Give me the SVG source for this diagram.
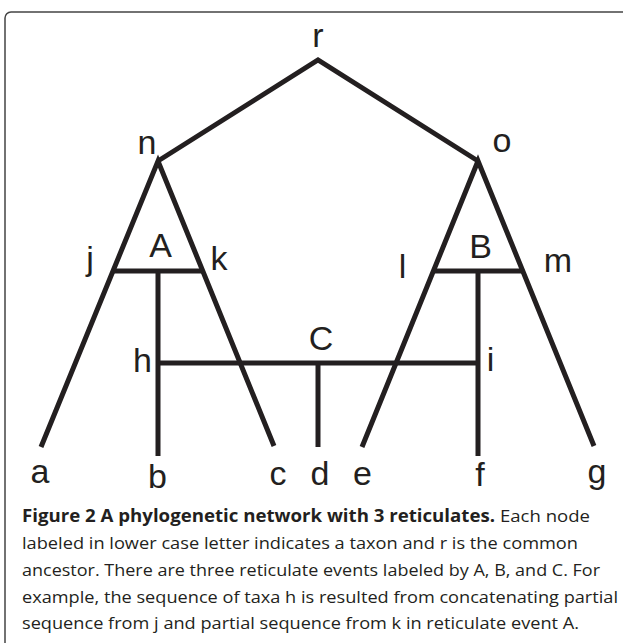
<svg xmlns="http://www.w3.org/2000/svg" width="623" height="643" viewBox="0 0 623 643">
<style>
.edge{fill:none;stroke:#231f20;stroke-width:5;stroke-linecap:butt;stroke-linejoin:miter}
.lbl{font-family:"Liberation Sans",Arial,sans-serif;font-size:34px;fill:#231f20;text-anchor:middle}
.cap{font-family:"Open Sans","Noto Sans",sans-serif;font-size:17px;fill:#231f20}
.capb{font-weight:bold}
</style>
<rect x="0" y="0" width="623" height="643" fill="#ffffff"/>
<path d="M623,12 H11 A6,6 0 0 0 5,18 V643" fill="none" stroke="#444" stroke-width="1.5"/>
<g id="connectors">
<path class="edge" d="M158,161 L318,60 L478,161"/>
<path class="edge" d="M41,447 L158,161 L274,446"/>
<path class="edge" d="M362,447 L478,161 L594,446"/>
<path class="edge" d="M113,271 H203"/>
<path class="edge" d="M435,271 H523"/>
<path class="edge" d="M158,271 V456"/>
<path class="edge" d="M478,271 V456"/>
<path class="edge" d="M158,363 H478"/>
<path class="edge" d="M318,363 V447"/>
</g>
<g id="node-r"><text class="lbl" x="318" y="47">r</text></g>
<g id="node-n"><text class="lbl" x="147" y="154">n</text></g>
<g id="node-o"><text class="lbl" x="502" y="152">o</text></g>
<g id="node-A"><text class="lbl" x="160.5" y="257">A</text></g>
<g id="node-B"><text class="lbl" x="480.5" y="258">B</text></g>
<g id="node-C"><text class="lbl" x="321" y="350">C</text></g>
<g id="node-j"><text class="lbl" x="90" y="270">j</text></g>
<g id="node-k"><text class="lbl" x="219" y="270">k</text></g>
<g id="node-l"><text class="lbl" x="402.5" y="278">l</text></g>
<g id="node-m"><text class="lbl" x="558" y="272">m</text></g>
<g id="node-h"><text class="lbl" x="142.5" y="372">h</text></g>
<g id="node-i"><text class="lbl" x="490.5" y="371">i</text></g>
<g id="node-a"><text class="lbl" x="40" y="483">a</text></g>
<g id="node-b"><text class="lbl" x="157.5" y="488">b</text></g>
<g id="node-c"><text class="lbl" x="278" y="485">c</text></g>
<g id="node-d"><text class="lbl" x="320" y="485">d</text></g>
<g id="node-e"><text class="lbl" x="362.5" y="485">e</text></g>
<g id="node-f"><text class="lbl" x="480" y="486">f</text></g>
<g id="node-g"><text class="lbl" x="597" y="483">g</text></g>
<g id="caption">
<text class="cap capb" x="22" y="522" textLength="473" lengthAdjust="spacingAndGlyphs">Figure 2 A phylogenetic network with 3 reticulates.</text>
<text class="cap" x="500" y="522" textLength="90" lengthAdjust="spacingAndGlyphs">Each node</text>
<text class="cap" x="22" y="549" textLength="556" lengthAdjust="spacingAndGlyphs">labeled in lower case letter indicates a taxon and r is the common</text>
<text class="cap" x="22" y="576" textLength="578" lengthAdjust="spacingAndGlyphs">ancestor. There are three reticulate events labeled by A, B, and C. For</text>
<text class="cap" x="22" y="603" textLength="596" lengthAdjust="spacingAndGlyphs">example, the sequence of taxa h is resulted from concatenating partial</text>
<text class="cap" x="22" y="629" textLength="557" lengthAdjust="spacingAndGlyphs">sequence from j and partial sequence from k in reticulate event A.</text>
</g>
</svg>
